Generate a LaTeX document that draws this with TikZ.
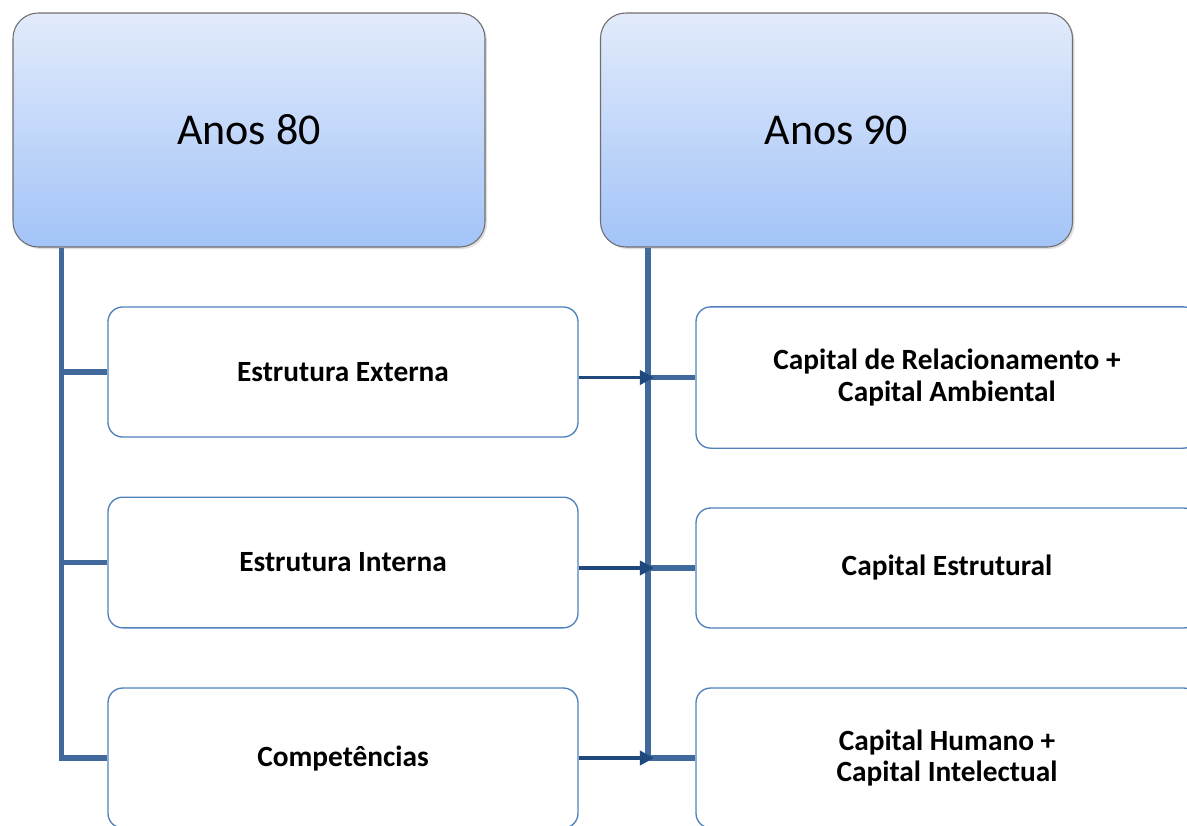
\documentclass[tikz,border=0pt]{standalone}
\usepackage{fontspec}
\setmainfont{Carlito}
\usetikzlibrary{arrows.meta,shadows}
\definecolor{spinec}{RGB}{65,105,155}
\definecolor{arrowc}{RGB}{31,73,125}
\definecolor{boxc}{RGB}{79,129,189}
\definecolor{topc}{RGB}{226,235,251}
\definecolor{botc}{RGB}{163,196,248}
\tikzset{
  epoca/.style={draw={rgb,255:red,110;green,110;blue,110}, line width=0.8pt, rounded corners=19pt,
    top color=topc, bottom color=botc, minimum width=354pt, minimum height=175.5pt,
    drop shadow={opacity=0.25, shadow xshift=1.5pt, shadow yshift=-1.5pt},
    font=\fontsize{33}{40}\selectfont},
  item/.style={draw=boxc, line width=1pt, rounded corners=11pt, fill=white,
    minimum width=352.5pt, align=center, font=\bfseries\fontsize{22}{23.5}\selectfont},
  capital/.style={item, minimum width=376.5pt},
  spine/.style={spinec, line width=3.8pt},
  seta/.style={arrowc, line width=2.6pt, -{Triangle[length=10.5pt,width=10.5pt]}}
}
\begin{document}
\begin{tikzpicture}[x=0.75pt,y=-0.75pt]
  \useasboundingbox (0,0) rectangle (1187,825);
  \clip (0,0) rectangle (1187,825);
  % epocas
  \node[epoca] (a80) at (249,130) {Anos 80};
  \node[epoca] (a90) at (836.5,130) {Anos 90};
  \coordinate (s80) at ([xshift=36.75pt]a80.south west);
  \coordinate (s90) at ([xshift=36pt]a90.south west);
  % anos 80
  \node[item, minimum height=97.5pt] (ee) at (343,372) {Estrutura Externa};
  \node[item, minimum height=98pt] (ei) at (343,562.5) {Estrutura Interna};
  \node[item, minimum height=105pt] (cp) at (343,758) {Competências};
  % anos 90
  \node[capital, minimum height=106pt] (cr) at (947,377.5) {Capital de Relacionamento +\\Capital Ambiental};
  \node[capital, minimum height=90pt] (ce) at (947,568) {Capital Estrutural};
  \node[capital, minimum height=105pt] (ch) at (947,758) {Capital Humano +\\Capital Intelectual};
  % linhas
  \draw[spine] (s80) |- (cp.west);
  \draw[spine] (s80) |- (ee.west);
  \draw[spine] (s80) |- (ei.west);
  \draw[spine] (s90) |- (ch.west);
  \draw[spine] (s90) |- (cr.west);
  \draw[spine] (s90) |- (ce.west);
  \draw[seta] (ee.east |- cr.west) -- ([xshift=4.5pt]s90 |- cr.west);
  \draw[seta] (ei.east |- ce.west) -- ([xshift=4.5pt]s90 |- ce.west);
  \draw[seta] (cp.east |- ch.west) -- ([xshift=4.5pt]s90 |- ch.west);
\end{tikzpicture}
\end{document}
